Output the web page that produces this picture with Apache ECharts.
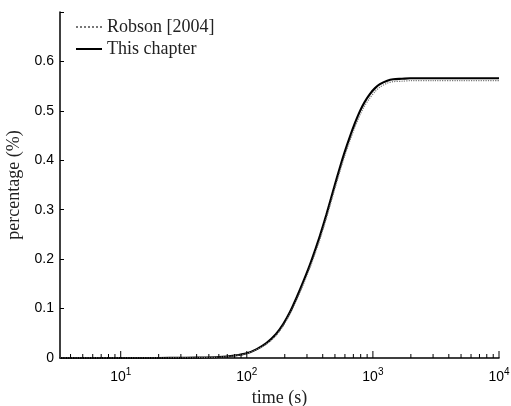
<!DOCTYPE html>
<html>
<head>
<meta charset="utf-8">
<script src="https://cdn.jsdelivr.net/npm/echarts@6/dist/echarts.min.js"></script>
<style>
html,body{margin:0;padding:0;background:#fff;}
#main{width:511px;height:406px;}
</style>
</head>
<body>
<div id="main"></div>
<script>
// time (s)
var times = [3.3, 10, 20, 30, 40, 60, 80, 100, 120, 143, 170, 194, 220, 248, 280, 316, 350, 379, 428, 490, 547, 600, 656, 720, 788, 860, 946, 1040, 1137, 1300, 1449, 1700, 1969, 3000, 5000, 10000];
// This chapter
var chapterVals = [0, 0, 0, 0.0002, 0.0006, 0.002, 0.005, 0.0095, 0.018, 0.030, 0.048, 0.068, 0.093, 0.122, 0.154, 0.188, 0.220, 0.246, 0.290, 0.343, 0.385, 0.418, 0.447, 0.475, 0.499, 0.518, 0.534, 0.546, 0.554, 0.561, 0.564, 0.565, 0.566, 0.566, 0.566, 0.566];
// Robson [2004]
var robsonVals = [0, 0, 0, 0.0002, 0.0005, 0.0018, 0.0045, 0.009, 0.017, 0.028, 0.045, 0.065, 0.089, 0.117, 0.148, 0.182, 0.213, 0.239, 0.283, 0.335, 0.377, 0.410, 0.439, 0.467, 0.491, 0.510, 0.526, 0.539, 0.548, 0.556, 0.559, 0.560, 0.561, 0.561, 0.561, 0.561];
// tick values on the log axis
var majorTicks = [10, 100, 1000, 10000];
var minorTicks = [4, 5, 6, 7, 8, 9, 20, 30, 40, 50, 60, 70, 80, 90, 200, 300, 400, 500, 600, 700, 800, 900, 2000, 3000, 4000, 5000, 6000, 7000, 8000, 9000];

function pairs(xs, ys){
  var out = [];
  for(var i=0;i<xs.length;i++){ out.push([xs[i], ys[i]]); }
  return out;
}
var tickData = [];
for(var i=0;i<minorTicks.length;i++){ tickData.push([minorTicks[i], 0, 4]); }
for(var j=0;j<majorTicks.length;j++){ tickData.push([majorTicks[j], 0, 7]); }

var sansFont = '"Liberation Sans", Arial, sans-serif';
var serifFont = '"Liberation Serif", "DejaVu Serif", serif';

var chart = echarts.init(document.getElementById('main'));
var option = {
  animation: false,
  backgroundColor: '#fff',
  grid: {left: 60, right: 12, top: 12, bottom: 48, containLabel: false, outerBoundsMode: 'none'},
  legend: {
    left: 70, top: 13, orient: 'vertical',
    itemWidth: 26, itemHeight: 10, itemGap: 4,
    itemStyle: {opacity: 0},
    textStyle: {fontFamily: serifFont, fontSize: 18, color: '#222'},
    data: ['Robson [2004]', 'This chapter']
  },
  xAxis: {
    type: 'log', logBase: 10, min: 3.3, max: 10000,
    name: 'time (s)', nameLocation: 'middle', nameGap: 30,
    nameTextStyle: {fontFamily: serifFont, fontSize: 18, color: '#222'},
    axisLine: {lineStyle: {color: '#000', width: 1.5}},
    axisTick: {show: false},
    splitLine: {show: false},
    axisLabel: {
      margin: 9, fontFamily: sansFont, fontSize: 14, color: '#000',
      formatter: function(v){
        var p = Math.round(Math.log(v)/Math.LN10);
        if(Math.abs(Math.pow(10,p) - v) > 1e-6*v || p < 1) return '';
        return '10{s|' + p + '}';
      },
      rich: {s: {fontSize: 10, verticalAlign: 'top', padding: [0,0,10,0], fontFamily: sansFont, color: '#000'}}
    }
  },
  yAxis: {
    type: 'value', min: 0, max: 0.7, interval: 0.1,
    name: 'percentage (%)', nameLocation: 'middle', nameGap: 36,
    nameTextStyle: {fontFamily: serifFont, fontSize: 18, color: '#222'},
    axisLine: {show: true, lineStyle: {color: '#000', width: 1.5}},
    axisTick: {show: true, inside: true, length: 4, lineStyle: {color: '#000'}},
    splitLine: {show: false},
    axisLabel: {
      margin: 6, fontFamily: sansFont, fontSize: 14, color: '#000',
      formatter: function(v){
        if(v > 0.65) return '';
        return v === 0 ? '0' : v.toFixed(1);
      }
    }
  },
  series: [
    {
      name: 'Robson [2004]', type: 'line', data: pairs(times, robsonVals),
      symbol: 'none', smooth: 0.3, z: 3,
      lineStyle: {color: '#777', width: 1.2, type: 'dotted'},
      itemStyle: {color: '#777'}
    },
    {
      name: 'This chapter', type: 'line', data: pairs(times, chapterVals),
      symbol: 'none', smooth: 0.3, z: 2,
      lineStyle: {color: '#000', width: 2.2},
      itemStyle: {color: '#000'}
    },
    {
      type: 'custom', silent: true, z: 4,
      data: tickData,
      renderItem: function(params, api){
        var p = api.coord([api.value(0), api.value(1)]);
        var len = api.value(2);
        return {
          type: 'line',
          shape: {x1: p[0], y1: p[1], x2: p[0], y2: p[1] - len},
          style: {stroke: '#000', lineWidth: 1}
        };
      }
    }
  ]
};
chart.setOption(option);
</script>
</body>
</html>
